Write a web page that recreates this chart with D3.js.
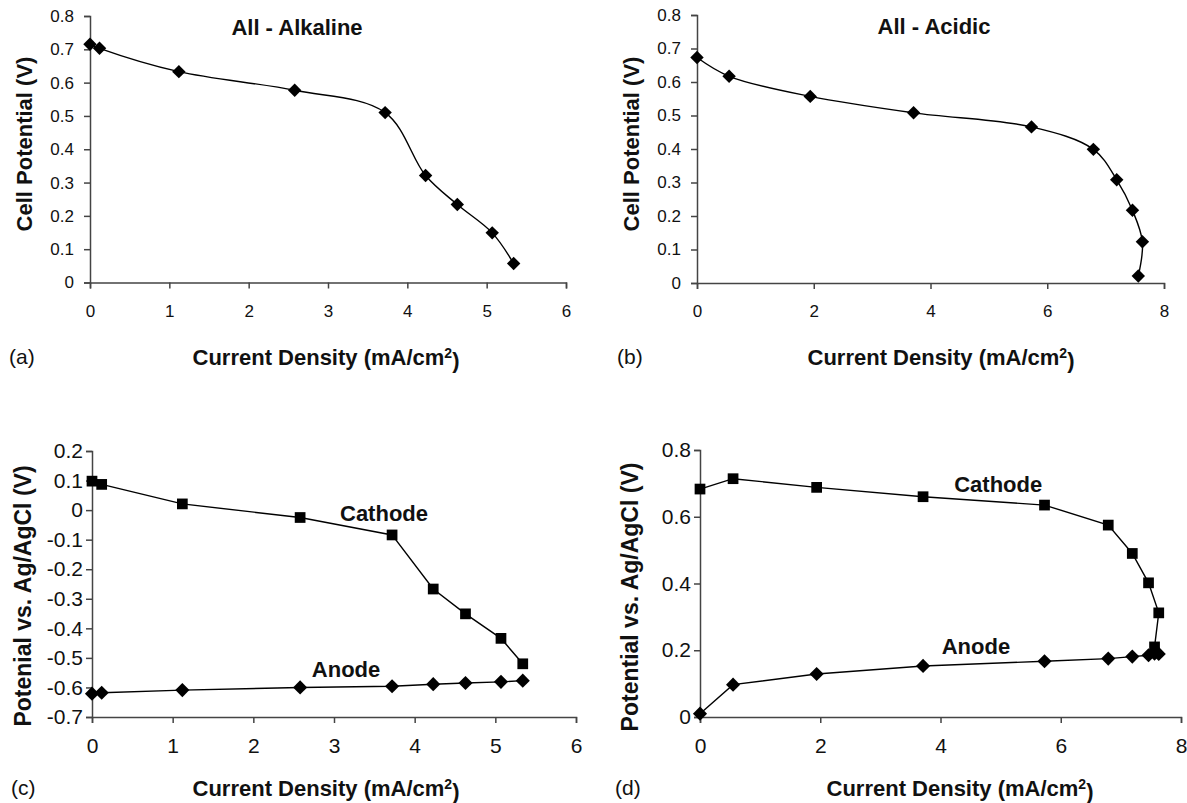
<!DOCTYPE html>
<html>
<head>
<meta charset="utf-8">
<script src="https://cdn.jsdelivr.net/npm/d3@7"></script>
<style>
body { margin: 0; background: #fff; }
svg { font-family: "Liberation Sans", Arial, sans-serif; }
.domain, .tick line { stroke: #444; stroke-width: 1.5; }
.lab { font-weight: bold; fill: #111; }
</style>
</head>
<body>
<script>
// alkaline run, panels (a) and (c)
var alkCurrent = [0, 0.12, 1.12, 2.58, 3.72, 4.23, 4.63, 5.07, 5.34];
var alkCell    = [0.715, 0.703, 0.633, 0.577, 0.51, 0.321, 0.234, 0.149, 0.057];
var alkCathode = [0.098, 0.087, 0.021, -0.025, -0.084, -0.267, -0.351, -0.434, -0.52];
var alkAnode   = [-0.621, -0.618, -0.609, -0.600, -0.596, -0.589, -0.585, -0.581, -0.577];

// acidic run, panels (b) and (d)
var acdCurrent = [0, 0.55, 1.94, 3.71, 5.73, 6.79, 7.19, 7.46, 7.63, 7.56];
var acdCell    = [0.673, 0.617, 0.557, 0.508, 0.466, 0.399, 0.308, 0.217, 0.123, 0.021];
var acdCathode = [0.683, 0.714, 0.688, 0.66, 0.635, 0.575, 0.49, 0.402, 0.312, 0.21];
var acdAnode   = [0.01, 0.097, 0.129, 0.153, 0.167, 0.175, 0.181, 0.185, 0.189, 0.19];

// axis ticks
var xTicksAlk = [0, 1, 2, 3, 4, 5, 6];
var xTicksAcd = [0, 2, 4, 6, 8];
var yTicksCell = [0, 0.1, 0.2, 0.3, 0.4, 0.5, 0.6, 0.7, 0.8];
var yTicksAlkElec = [0.2, 0.1, 0, -0.1, -0.2, -0.3, -0.4, -0.5, -0.6, -0.7];
var yTicksAcdElec = [0, 0.2, 0.4, 0.6, 0.8];

var width = 1187, height = 803;
var fontStack = "'Liberation Sans', Arial, sans-serif";

var svg = d3.select("body").append("svg")
    .attr("width", width)
    .attr("height", height);

var fmt = function(d) { return String(+d.toFixed(1)); };

//draw one panel
function panel(opt) {
    var x = d3.scaleLinear().domain(opt.xDom).range([opt.l, opt.r]);
    var y = d3.scaleLinear().domain(opt.yDom).range([opt.b, opt.t]);

    var gx = svg.append("g")
        .attr("transform", "translate(0," + opt.b + ")")
        .call(d3.axisBottom(x).tickValues(opt.xTicks).tickSize(6).tickPadding(opt.xPad).tickFormat(fmt));

    var gy = svg.append("g")
        .attr("transform", "translate(" + opt.l + ",0)")
        .call(d3.axisLeft(y).tickValues(opt.yTicks).tickSize(6).tickPadding(opt.yPad).tickFormat(fmt));

    [gx, gy].forEach(function(g) {
        g.selectAll("text")
            .style("font-size", opt.tickFont + "px")
            .style("font-family", fontStack)
            .style("fill", "#111");
    });

    opt.series.forEach(function(s) {
        var pts = opt.xs.map(function(v, i) { return [v, s.ys[i]]; });

        var line = d3.line()
            .x(function(d) { return x(d[0]); })
            .y(function(d) { return y(d[1]); })
            .curve(opt.smooth ? d3.curveCatmullRom : d3.curveLinear);

        svg.append("path")
            .datum(pts)
            .attr("d", line)
            .attr("fill", "none")
            .attr("stroke", "#000")
            .attr("stroke-width", 1.4);

        var sym = d3.symbol().type(d3.symbolSquare).size(s.shape == "square" ? opt.sqSize : opt.dmSize);
        svg.selectAll(null)
            .data(pts)
            .enter()
            .append("path")
            .attr("d", sym)
            .attr("fill", "#000")
            .attr("transform", function(d) {
                return "translate(" + x(d[0]) + "," + y(d[1]) + ")" + (s.shape == "square" ? "" : " rotate(45)");
            });

        if (s.label) {
            svg.append("text")
                .attr("class", "lab")
                .style("font-size", "22px")
                .attr("x", x(s.label[0]))
                .attr("y", y(s.label[1]))
                .attr("dy", "0.35em")
                .attr("text-anchor", "middle")
                .text(s.name);
        }
    });

    if (opt.title) {
        svg.append("text")
            .attr("class", "lab")
            .style("font-size", "22px")
            .attr("x", opt.titleX)
            .attr("y", opt.t + 11)
            .attr("dy", "0.35em")
            .attr("text-anchor", "middle")
            .text(opt.title);
    }

    //y axis title
    svg.append("text")
        .attr("class", "lab")
        .style("font-size", opt.yLabFont + "px")
        .attr("transform", "translate(" + opt.yLabX + "," + opt.yLabY + ") rotate(-90)")
        .attr("dy", "0.35em")
        .attr("text-anchor", "middle")
        .text(opt.yLabel);

    //x axis title with superscript
    var xl = svg.append("text")
        .attr("class", "lab")
        .style("font-size", "22px")
        .attr("x", opt.xLabX)
        .attr("y", opt.xLabY)
        .attr("dy", "0.35em")
        .attr("text-anchor", "middle");
    xl.append("tspan").text("Current Density (mA/cm");
    xl.append("tspan").attr("dy", "-0.45em").style("font-size", "14px").text("2");
    xl.append("tspan").attr("dy", "0.45em").text(")");

    svg.append("text")
        .style("font-size", "21px")
        .style("fill", "#111")
        .attr("x", opt.letterX)
        .attr("y", opt.xLabY)
        .attr("dy", "0.35em")
        .text(opt.letter);
}

panel({
    l: 90, r: 566, t: 16, b: 282.5,
    xDom: [0, 6], yDom: [0, 0.8], xTicks: xTicksAlk, yTicks: yTicksCell,
    tickFont: 17, xPad: 16, yPad: 10, dmSize: 90, sqSize: 100,
    xs: alkCurrent, smooth: true,
    series: [{ ys: alkCell, shape: "diamond" }],
    title: "All - Alkaline", titleX: 297,
    yLabel: "Cell Potential (V)", yLabFont: 22, yLabX: 24, yLabY: 144,
    xLabX: 326, xLabY: 357, letter: "(a)", letterX: 9
});

panel({
    l: 697, r: 1164, t: 15, b: 283,
    xDom: [0, 8], yDom: [0, 0.8], xTicks: xTicksAcd, yTicks: yTicksCell,
    tickFont: 17, xPad: 16, yPad: 10, dmSize: 90, sqSize: 100,
    xs: acdCurrent, smooth: true,
    series: [{ ys: acdCell, shape: "diamond" }],
    title: "All - Acidic", titleX: 934,
    yLabel: "Cell Potential (V)", yLabFont: 22, yLabX: 631, yLabY: 144,
    xLabX: 941, xLabY: 357, letter: "(b)", letterX: 617
});

panel({
    l: 92, r: 576, t: 451, b: 717,
    xDom: [0, 6], yDom: [-0.7, 0.2], xTicks: xTicksAlk, yTicks: yTicksAlkElec,
    tickFont: 21, xPad: 15, yPad: 3, dmSize: 100, sqSize: 115,
    xs: alkCurrent, smooth: false,
    series: [
        { ys: alkCathode, shape: "square", name: "Cathode", label: [3.62, -0.012] },
        { ys: alkAnode, shape: "diamond", name: "Anode", label: [3.15, -0.539] }
    ],
    yLabel: "Potenial vs. Ag/AgCl (V)", yLabFont: 23, yLabX: 23, yLabY: 596,
    xLabX: 326, xLabY: 788, letter: "(c)", letterX: 11
});

panel({
    l: 700, r: 1181, t: 450, b: 717,
    xDom: [0, 8], yDom: [0, 0.8], xTicks: xTicksAcd, yTicks: yTicksAcdElec,
    tickFont: 21, xPad: 15, yPad: 3, dmSize: 100, sqSize: 115,
    xs: acdCurrent, smooth: false,
    series: [
        { ys: acdCathode, shape: "square", name: "Cathode", label: [4.96, 0.698] },
        { ys: acdAnode, shape: "diamond", name: "Anode", label: [4.59, 0.211] }
    ],
    yLabel: "Potential vs. Ag/AgCl (V)", yLabFont: 23, yLabX: 630, yLabY: 597,
    xLabX: 960, xLabY: 788, letter: "(d)", letterX: 615
});
</script>
</body>
</html>
